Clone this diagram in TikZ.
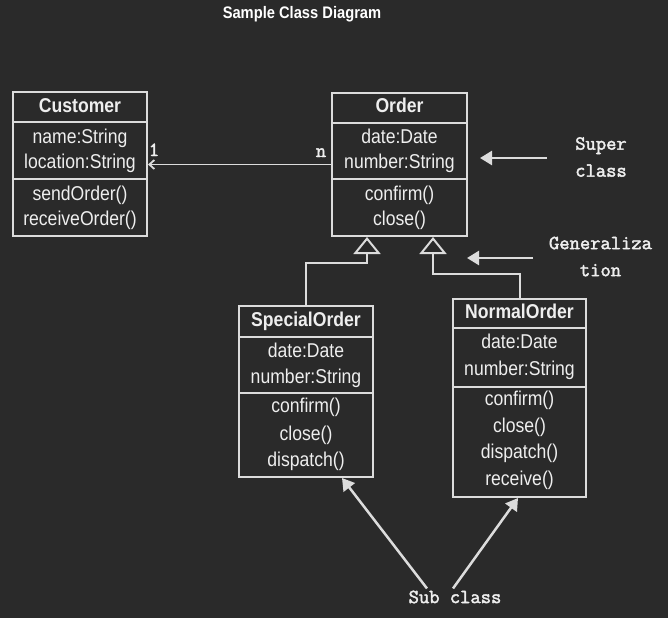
\documentclass[tikz,border=0pt]{standalone}
\usepackage{fontspec}
\usetikzlibrary{arrows.meta,calc}
\newfontfamily\umlfont{Liberation Sans}[FakeStretch=0.88]
\newfontfamily\notefont{Latin Modern Mono}[FakeBold=2.2]
\definecolor{bg}{HTML}{2A2A2A}
\definecolor{ink}{HTML}{DCDCDC}
\definecolor{txt}{HTML}{EEEEEE}
\begin{document}
\begin{tikzpicture}[x=1pt,y=-1pt,
 classbox/.style={draw=ink, line width=2pt, inner sep=0pt},
 sepline/.style={draw=ink, line width=2pt},
 cname/.style={font=\umlfont\bfseries\fontsize{20}{24}\selectfont, text=txt, inner sep=0pt, text height=14pt, text depth=4pt},
 member/.style={font=\umlfont\fontsize{20}{24}\selectfont, text=txt, inner sep=0pt, text height=14pt, text depth=4pt},
 note/.style={font=\notefont\fontsize{20}{27}\selectfont, text=txt, inner sep=0pt, align=center},
 assoc/.style={draw=ink, line width=1.8pt, -{Straight Barb[length=5pt,width=9pt]}},
 gen/.style={draw=ink, line width=2pt, -{Triangle[length=17pt,width=27pt,fill=bg]}},
 pointer/.style={draw=ink, line width=2.5pt, -{Triangle[length=12pt,width=14pt]}}
]
\fill[bg] (0,0) rectangle (668,618);
\useasboundingbox (0,0) rectangle (668,618);

\node[font=\umlfont\bfseries\fontsize{16.7}{20}\selectfont, text=white, inner sep=0pt] (title) at (302,14) {Sample Class Diagram};

% Customer
\node[classbox, minimum width=134pt, minimum height=144pt] (cust) at (80,164) {};
\draw[sepline] (13,122) -- (147,122);
\draw[sepline] (13,179) -- (147,179);
\node[cname] (custn) at (80,107) {Customer};
\node[member] (c1) at (80,138) {name:String};
\node[member] (c2) at (80,163) {location:String};
\node[member] (c3) at (80,195) {sendOrder()};
\node[member] (c4) at (80,220) {receiveOrder()};

% Order
\node[classbox, minimum width=135pt, minimum height=143pt] (ord) at (399.5,164.5) {};
\draw[sepline] (332,123) -- (467,123);
\draw[sepline] (332,179) -- (467,179);
\node[cname] (ordn) at (399.5,107) {Order};
\node[member] (o1) at (399.5,138) {date:Date};
\node[member] (o2) at (399.5,163) {number:String};
\node[member] (o3) at (399.5,195) {confirm()};
\node[member] (o4) at (399.5,220) {close()};

% SpecialOrder
\node[classbox, minimum width=134pt, minimum height=171pt] (sp) at (306,391.5) {};
\draw[sepline] (239,337) -- (373,337);
\draw[sepline] (239,393) -- (373,393);
\node[cname] (spn) at (306,321) {SpecialOrder};
\node[member] (s1) at (306,352) {date:Date};
\node[member] (s2) at (306,378) {number:String};
\node[member] (s3) at (306,407) {confirm()};
\node[member] (s4) at (306,435) {close()};
\node[member] (s5) at (306,461) {dispatch()};

% NormalOrder
\node[classbox, minimum width=133pt, minimum height=198pt] (no) at (519.5,398) {};
\draw[sepline] (453,328) -- (586,328);
\draw[sepline] (453,387) -- (586,387);
\node[cname] (non) at (519.5,313) {NormalOrder};
\node[member] (n1) at (519.5,343) {date:Date};
\node[member] (n2) at (519.5,370) {number:String};
\node[member] (n3) at (519.5,400) {confirm()};
\node[member] (n4) at (519.5,427) {close()};
\node[member] (n5) at (519.5,453) {dispatch()};
\node[member] (n6) at (519.5,480) {receive()};

% association
\draw[assoc] (ord.west) -- (ord.west -| cust.east);
\node[note, anchor=base] (m1) at (154,156) {1};
\node[note, anchor=base] (mn) at (321,157) {n};

% generalization
\coordinate (g1) at ([xshift=-32.5pt]ord.south);
\coordinate (g2) at ([xshift=33.5pt]ord.south);
\draw[gen] (sp.north) |- ([yshift=-26pt]g1) -- (g1);
\draw[gen] (no.north) |- ([yshift=-37pt]g2) -- (g2);

% notes
\node[note] (superlbl) at (601,157) {Super\\class};
\coordinate (sctail) at (547,158);
\coordinate (schead) at (480,158);
\draw[pointer] (sctail) -- (schead);

\node[note] (genlbl) at (600.5,256.5) {Generaliza\\tion};
\coordinate (gntail) at (533,258);
\coordinate (gnhead) at (467,258);
\draw[pointer] (gntail) -- (gnhead);

\node[note] (sub) at (455,597) {Sub class};
\draw[pointer] ([xshift=-28pt,yshift=2pt]sub.north) -- ([xshift=36pt]sp.south);
\draw[pointer] ([xshift=-2pt,yshift=2pt]sub.north) -- ([xshift=-1.5pt]no.south);
\end{tikzpicture}
\end{document}
